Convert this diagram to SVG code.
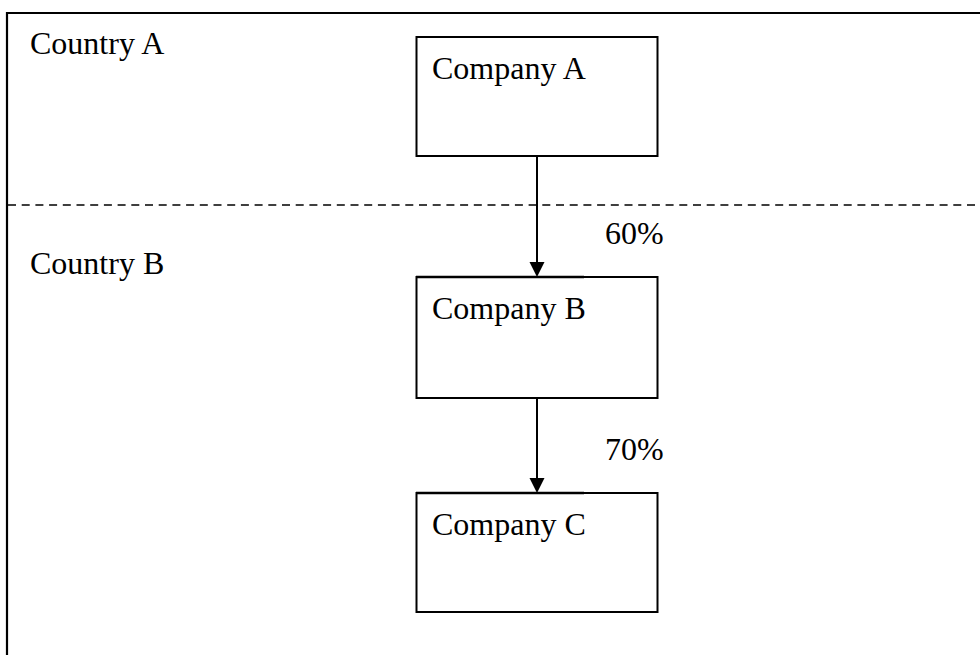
<svg xmlns="http://www.w3.org/2000/svg" width="980" height="655" viewBox="0 0 980 655">
<style>
  .t { font-family: "Liberation Serif", "Times New Roman", serif; font-size: 32px; fill: #000; }
  .box { fill: #fff; stroke: #000; stroke-width: 2; }
  .edge { stroke: #000; stroke-width: 2; fill: none; }
</style>
<rect width="980" height="655" fill="#fff"/>
<g id="frame">
  <path d="M7,655 L7,13 L980,13" fill="none" stroke="#000" stroke-width="2.2"/>
  <line x1="8" y1="205" x2="980" y2="205" stroke="#000" stroke-width="1.5" stroke-dasharray="8,5.7"/>
  <text class="t" x="30" y="54">Country A</text>
  <text class="t" x="30" y="274">Country B</text>
</g>
<g id="companyA">
  <rect class="box" x="416.5" y="37" width="241" height="119"/>
  <text class="t" x="432" y="79">Company A</text>
</g>
<g id="companyB">
  <rect class="box" x="416.5" y="277" width="241" height="121"/>
  <text class="t" x="432" y="319">Company B</text>
</g>
<g id="companyC">
  <rect class="box" x="416.5" y="493" width="241" height="119"/>
  <text class="t" x="432" y="535">Company C</text>
</g>
<g id="connectors">
  <line class="edge" x1="537" y1="156" x2="537" y2="262"/>
  <path d="M529.5,262 L544.5,262 L537,277 Z" fill="#000"/>
  <line x1="416" y1="277" x2="584" y2="277" stroke="#000" stroke-width="2.4"/>
  <text class="t" x="605" y="244">60%</text>
  <line class="edge" x1="537" y1="398" x2="537" y2="478"/>
  <path d="M529.5,478 L544.5,478 L537,493 Z" fill="#000"/>
  <line x1="416" y1="493" x2="584" y2="493" stroke="#000" stroke-width="2.4"/>
  <text class="t" x="605" y="460">70%</text>
</g>
</svg>
